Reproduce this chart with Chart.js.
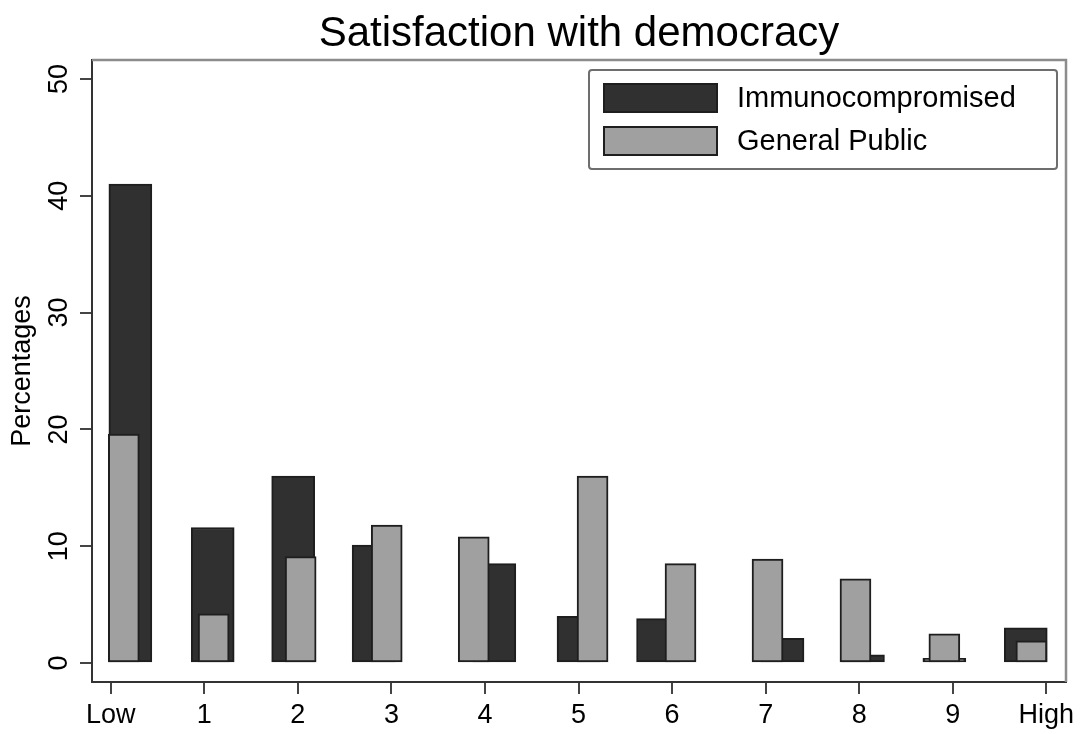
<!DOCTYPE html>
<html>
<head>
<meta charset="utf-8">
<script src="https://cdn.jsdelivr.net/npm/chart.js@4/dist/chart.umd.min.js"></script>
<style>
  html, body { margin: 0; padding: 0; background: #fff; }
  #wrap { width: 1084px; height: 734px; }
</style>
</head>
<body>
<div id="wrap"><canvas id="chart"></canvas></div>
<script>
// categories on the x axis
const categories = ["Low", "1", "2", "3", "4", "5", "6", "7", "8", "9", "High"];
const yTicks = [0, 10, 20, 30, 40, 50];

// percentages
const immunoValues = [41.0, 11.6, 16.0, 10.1, 8.5, 4.0, 3.8, 2.1, 0.7, 0.4, 3.0];
const publicValues = [19.6, 4.2, 9.1, 11.8, 10.8, 16.0, 8.5, 8.9, 7.2, 2.5, 1.9];

// where each bar sits on the x axis (bars are not centred on the ticks)
const immunoPos = [0.21, 1.09, 1.95, 2.81, 4.10, 5.00, 5.85, 7.18, 8.04, 8.91, 9.78];
const publicPos = [0.14, 1.10, 2.03, 2.95, 3.88, 5.15, 6.09, 7.02, 7.96, 8.91, 9.84];

const FONT = "'Liberation Sans', Arial, Helvetica, sans-serif";
const DARK = "#303030";
const LIGHT = "#a0a0a0";
const EDGE = "#1e1e1e";

const series = [
  { label: "Immunocompromised", color: DARK, values: immunoValues, pos: immunoPos, width: 43 },
  { label: "General Public", color: LIGHT, values: publicValues, pos: publicPos, width: 31 },
];

// title, frame and legend box drawn on top of the chart
const extras = {
  id: "extras",
  afterDraw(chart) {
    const ctx = chart.ctx;
    const a = chart.chartArea;
    ctx.save();

    // grey frame on top and right
    ctx.strokeStyle = "#8c8c8c";
    ctx.lineWidth = 2.5;
    ctx.beginPath();
    ctx.moveTo(a.left, a.top);
    ctx.lineTo(a.right, a.top);
    ctx.lineTo(a.right, a.bottom);
    ctx.stroke();

    // title
    ctx.fillStyle = "#000";
    ctx.font = "42px " + FONT;
    ctx.textAlign = "center";
    ctx.textBaseline = "alphabetic";
    ctx.fillText("Satisfaction with democracy", (a.left + a.right) / 2, 46);

    // legend
    const bx = 589, by = 70, bw = 468, bh = 99;
    ctx.strokeStyle = "#6e6e6e";
    ctx.lineWidth = 2;
    ctx.beginPath();
    ctx.roundRect(bx, by, bw, bh, 3);
    ctx.stroke();

    ctx.font = "29px " + FONT;
    ctx.textAlign = "left";
    ctx.textBaseline = "middle";
    series.forEach((s, i) => {
      const sy = 83 + i * 43;
      ctx.fillStyle = s.color;
      ctx.fillRect(603, sy, 115, 30);
      ctx.strokeStyle = EDGE;
      ctx.lineWidth = 2;
      ctx.strokeRect(604, sy + 1, 113, 28);
      ctx.fillStyle = "#000";
      ctx.fillText(s.label, 737, sy + 16);
    });
    ctx.restore();
  },
};

const ctx = document.getElementById("chart").getContext("2d");

new Chart(ctx, {
  type: "bar",
  data: {
    datasets: series.map((s, i) => ({
      label: s.label,
      data: s.pos.map((x, k) => ({ x: x, y: s.values[k] })),
      backgroundColor: s.color,
      borderColor: EDGE,
      borderWidth: 2,
      borderSkipped: false,
      barThickness: s.width,
      grouped: false,
      order: 2 - i, // light bars drawn over dark ones
    })),
  },
  options: {
    responsive: true,
    maintainAspectRatio: false,
    animation: false,
    layout: {
      padding: { top: 60, right: 18, left: 0, bottom: 0 },
    },
    plugins: {
      legend: { display: false },
      title: { display: false },
      tooltip: { enabled: false },
    },
    scales: {
      x: {
        type: "linear",
        offset: false,
        min: -0.2,
        max: 10.21,
        afterBuildTicks: (s) => {
          s.ticks = categories.map((c, i) => ({ value: i }));
        },
        afterFit: (s) => {
          s.height = 52;
        },
        grid: {
          display: true,
          offset: false,
          drawOnChartArea: false,
          drawTicks: true,
          tickLength: 12,
          color: "#444",
          lineWidth: 2,
        },
        border: { display: true, color: "#333", width: 2 },
        ticks: {
          color: "#000",
          padding: 5,
          maxRotation: 0,
          autoSkip: false,
          font: { size: 27, family: FONT },
          callback: (v) => categories[v],
        },
      },
      y: {
        min: -1.63,
        max: 51.63,
        afterBuildTicks: (s) => {
          s.ticks = yTicks.map((v) => ({ value: v }));
        },
        afterFit: (s) => {
          s.width = 92;
        },
        grid: {
          display: true,
          drawOnChartArea: false,
          drawTicks: true,
          tickLength: 12,
          color: "#444",
          lineWidth: 2,
        },
        border: { display: true, color: "#333", width: 2 },
        title: {
          display: true,
          text: "Percentages",
          color: "#000",
          font: { size: 27, family: FONT },
          padding: { top: 6, bottom: 0 },
        },
        ticks: {
          color: "#000",
          padding: 5,
          minRotation: 90,
          maxRotation: 90,
          crossAlign: "center",
          font: { size: 27, family: FONT },
        },
      },
    },
  },
  plugins: [extras],
});
</script>
</body>
</html>
